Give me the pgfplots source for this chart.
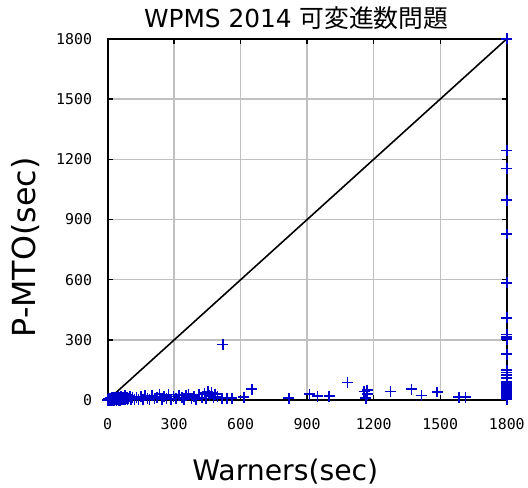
\documentclass[border=0pt]{standalone}
\usepackage{pgfplots}
\pgfplotsset{compat=1.18}
\usepackage{fontspec}
\setmainfont{DejaVu Sans}
\newfontfamily\cjk{Noto Sans CJK JP}
\newfontfamily\monof{DejaVu Sans Mono}
\definecolor{mblue}{RGB}{0,0,205}
\definecolor{gridgray}{RGB}{192,192,192}
\begin{document}
\begin{tikzpicture}
\begin{axis}[
  scale only axis,
  width=401bp, height=363bp,
  xmin=0, xmax=1800, ymin=0, ymax=1800,
  xtick={0,300,...,1800}, ytick={0,300,...,1800},
  grid=major,
  major grid style={gridgray, line width=1.4bp},
  axis line style={black, line width=2bp},
  tick style={black, line width=1.4bp},
  major tick length=5bp,
  tick align=inside,
  /pgf/number format/1000 sep={},
  /pgf/number format/assume math mode=true,
  ticklabel style={font=\monof\fontsize{15}{15}\selectfont},
  xticklabel style={yshift=-15bp},
  yticklabel style={xshift=-12bp},
  title={WPMS 2014 {\cjk 可変進数問題}},
  title style={font=\fontsize{25}{25}\selectfont, yshift=0bp, xshift=-11bp},
  xlabel={Warners(sec)},
  ylabel={P-MTO(sec)},
  xlabel style={font=\fontsize{28.5}{28.5}\selectfont, yshift=-22bp, xshift=-22bp},
  ylabel style={font=\fontsize{32}{32}\selectfont, yshift=10bp, xshift=-28bp},
  clip=false,
]
\addplot[black, line width=1.6bp, no marks, forget plot] coordinates {(0,0) (1800,1800)};
\addplot[only marks, mark=+, mark size=5.5bp, color=mblue, mark options={line width=1.6bp, color=mblue}] coordinates {
(0,0) (1,2) (2,0) (3,5) (4,1) (5,3) (6,8) (7,0) (8,2) (9,6) (10,4) (11,0) (12,10) (13,3) (14,1) (15,7) (16,0) (17,12) (18,3) (19,5)
(20,10) (21,1) (22,2) (23,8) (24,0) (25,5) (26,14) (27,3) (28,12) (29,6) (30,0) (31,9) (32,6) (33,2) (34,16) (35,3) (36,11) (38,15) (39,4) (40,8)
(41,0) (42,2) (43,13) (45,10) (46,5) (48,4) (49,18) (50,18) (51,1) (52,6) (54,9) (55,0) (57,15) (58,12) (59,3) (60,5) (62,20) (63,8) (65,3) (67,14)
(68,9) (70,14) (72,2) (75,7) (78,22) (80,4) (85,11) (88,16) (90,3) (95,8) (100,20) (105,5)
(112,12) (122,6) (130,15) (140,3) (150,18) (160,6) (170,22) (180,10) (190,4) (200,24) (212,8) (222,15) (235,30) (245,6) (255,20) (265,10)
(275,28) (285,5) (298,18) (310,8) (322,26) (335,12) (345,4) (355,22) (365,30) (378,10) (390,20) (400,6) (412,28) (425,14) (438,35) (445,8)
(452,42) (460,22) (468,38) (478,12) (485,30) (495,18)
(517,10) (539,10) (561,10) (615,15) (651,55) (520,278) (817,10)
(910,30) (947,21) (999,21) (1082,89) (1157,43) (1170,50) (1170,30) (1165,10) (1275,43) (1370,55) (1415,23) (1486,41) (1584,16) (1613,16)
(1800,1800) (1800,1244) (1800,1154) (1800,997) (1800,828) (1800,585) (1800,411) (1800,327) (1800,316) (1800,304) (1800,230)
(1800,150) (1800,139) (1800,125) (1800,112) (1800,94) (1800,85) (1800,75) (1800,68) (1800,60) (1800,55) (1800,48) (1800,42) (1800,35) (1800,28) (1800,20) (1800,12) (1800,5)
};
\end{axis}
\path ([xshift=-108bp,yshift=-86bp]current axis.south west) rectangle ([xshift=19bp,yshift=39bp]current axis.north east);
\end{tikzpicture}
\end{document}
